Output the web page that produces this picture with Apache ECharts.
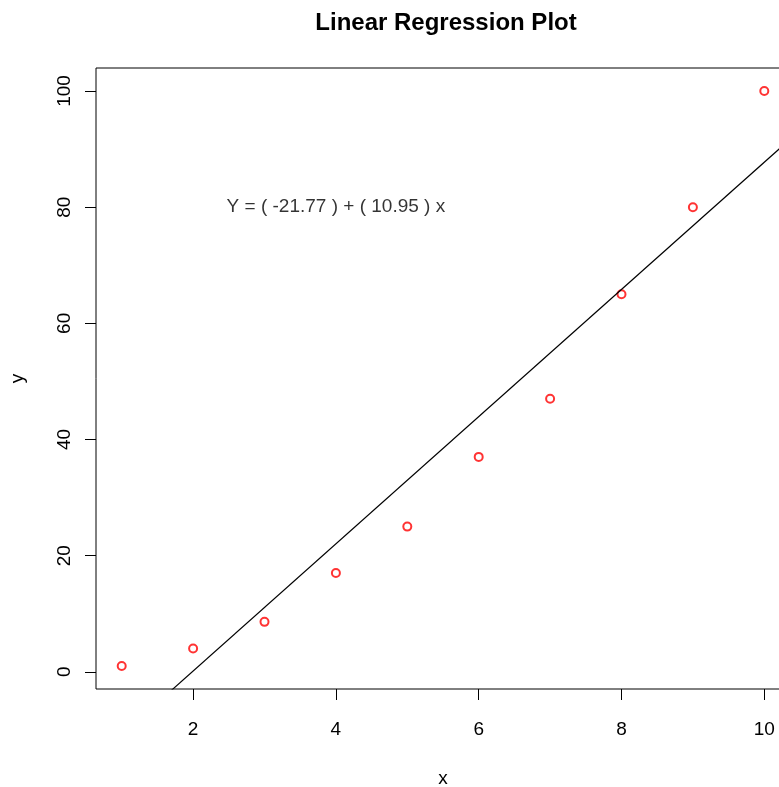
<!DOCTYPE html>
<html>
<head>
<meta charset="utf-8">
<script src="https://cdn.jsdelivr.net/npm/echarts@6/dist/echarts.min.js"></script>
<style>
html,body{margin:0;padding:0;background:#fff;}
#chart{width:779px;height:787px;}
</style>
</head>
<body>
<div id="chart"></div>
<script>
// Data
const xValues = [1, 2, 3, 4, 5, 6, 7, 8, 9, 10];
const yValues = [1, 4, 8.6, 17, 25, 37, 47, 65, 80, 100];
const coefIntercept = -21.77;
const coefSlope = 10.95;
const xTicks = [2, 4, 6, 8, 10];
const yTicks = [0, 20, 40, 60, 80, 100];
const annotationPos = [4, 80];

// R-style 4% axis extension
const xMinD = Math.min(...xValues), xMaxD = Math.max(...xValues);
const yMinD = Math.min(...yValues), yMaxD = Math.max(...yValues);
const xPad = (xMaxD - xMinD) * 0.04, yPad = (yMaxD - yMinD) * 0.04;
const xMin = xMinD - xPad, xMax = xMaxD + xPad;
const yMin = yMinD - yPad, yMax = yMaxD + yPad;

const points = xValues.map((x, i) => [x, yValues[i]]);
const lineData = [xMin, xMax].map(x => [x, coefIntercept + coefSlope * x]);
const eqText = 'Y = ( ' + coefIntercept.toFixed(2) + ' ) + ( ' + coefSlope.toFixed(2) + ' ) x';

const FONT = 'Liberation Sans, Arial, sans-serif';
const chart = echarts.init(document.getElementById('chart'), null, {renderer: 'canvas'});
chart.setOption({
  animation: false,
  backgroundColor: '#ffffff',
  title: {
    text: 'Linear Regression Plot',
    left: 441, top: 6, textAlign: 'center',
    textStyle: {fontFamily: FONT, fontWeight: 'bold', fontSize: 24, color: '#000'}
  },
  grid: {
    left: 96, top: 68, right: -11, bottom: 98,
    containLabel: false, outerBoundsMode: 'none',
    show: true, borderColor: '#000', borderWidth: 1, backgroundColor: 'transparent'
  },
  xAxis: {
    type: 'value', min: xMin, max: xMax,
    name: 'x', nameLocation: 'middle', nameGap: 80,
    nameTextStyle: {fontFamily: FONT, fontSize: 19, color: '#000'},
    splitLine: {show: false},
    axisLine: {show: false, onZero: false},
    axisTick: {show: true, inside: false, length: 11, customValues: xTicks, lineStyle: {color: '#000', width: 1}},
    axisLabel: {customValues: xTicks, margin: 31, fontFamily: FONT, fontSize: 19, color: '#000'}
  },
  yAxis: {
    type: 'value', min: yMin, max: yMax,
    name: 'y', nameLocation: 'middle', nameGap: 69, nameRotate: 90,
    nameTextStyle: {fontFamily: FONT, fontSize: 19, color: '#000'},
    splitLine: {show: false},
    axisLine: {show: false, onZero: false},
    axisTick: {show: true, inside: false, length: 11, customValues: yTicks, lineStyle: {color: '#000', width: 1}},
    axisLabel: {customValues: yTicks, rotate: 90, margin: 22, fontFamily: FONT, fontSize: 19, color: '#000'}
  },
  series: [
    {
      type: 'line', data: lineData, showSymbol: false, symbol: 'none', clip: true,
      lineStyle: {color: '#000', width: 1.2}, silent: true
    },
    {
      type: 'scatter', data: points, symbol: 'emptyCircle', symbolSize: 8,
      itemStyle: {color: '#ff0000', borderColor: '#ff0000', borderWidth: 1}
    },
    {
      type: 'scatter', data: [annotationPos], symbolSize: 0,
      label: {show: true, position: 'inside', formatter: eqText,
        fontFamily: FONT, fontSize: 19, color: '#000', textBorderWidth: 0}
    }
  ]
});
</script>
</body>
</html>
